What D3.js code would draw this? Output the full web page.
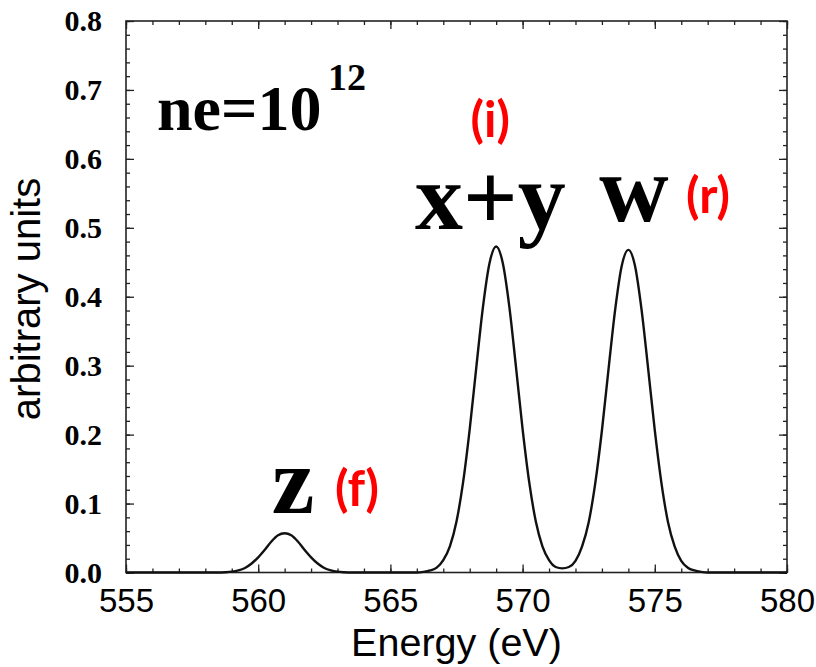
<!DOCTYPE html>
<html>
<head>
<meta charset="utf-8">
<script src="https://cdn.jsdelivr.net/npm/d3@7"></script>
<style>
  html, body { margin: 0; padding: 0; background: #fff; }
  svg { display: block; }
</style>
</head>
<body>
<svg id="chart" width="816" height="667"></svg>
<script>
// ---- data ----
const energy = [555, 557, 558.5, 558.75, 559, 559.25, 559.5, 559.75, 560, 560.25, 560.5, 560.75,
  561, 561.25, 561.5, 561.75, 562, 562.25, 562.5, 562.75, 563, 563.25, 563.5, 565,
  566, 566.25, 566.5, 566.75, 567, 567.25, 567.5, 567.75, 568, 568.25, 568.5, 568.75,
  569, 569.25, 569.5, 569.75, 570, 570.25, 570.5, 570.75, 571, 571.25, 571.5, 571.75,
  572, 572.25, 572.5, 572.75, 573, 573.25, 573.5, 573.75, 574, 574.25, 574.5, 574.75,
  575, 575.25, 575.5, 575.75, 576, 576.25, 576.5, 576.75, 577, 578, 580];
const intensity = [0, 0, 0.000, 0.0004, 0.0012, 0.003, 0.0065, 0.013, 0.022, 0.033, 0.045, 0.054,
  0.057, 0.054, 0.045, 0.033, 0.022, 0.013, 0.0065, 0.003, 0.0012, 0.0004, 0.000, 0,
  0.000, 0.001, 0.003, 0.007, 0.018, 0.038, 0.074, 0.131, 0.208, 0.298, 0.385, 0.449,
  0.473, 0.449, 0.385, 0.298, 0.208, 0.131, 0.074, 0.038, 0.018, 0.008, 0.006, 0.008,
  0.017, 0.038, 0.073, 0.130, 0.206, 0.295, 0.381, 0.445, 0.468, 0.445, 0.381, 0.295,
  0.206, 0.130, 0.073, 0.038, 0.017, 0.007, 0.003, 0.001, 0.000, 0, 0];

const xMajorTicks = [555, 560, 565, 570, 575, 580];
const xMinorTicks = d3.range(555, 581, 1);
const yMajorTicks = [0, 0.1, 0.2, 0.3, 0.4, 0.5, 0.6, 0.7, 0.8];
const yMinorTicks = d3.range(0, 41).map(i => i * 0.02);

const xTitle = "Energy (eV)";
const yTitle = "arbitrary units";

// peak annotations, anchored in data coordinates (energy, value)
const peakLabels = [
  { text: "z", x: 560.51, y: 0.086 },
  { text: "x+y", x: 565.93, y: 0.498 },
  { text: "w", x: 572.9, y: 0.510 }
];
const lineLabels = [
  { text: "(f)", x: 562.9, y: 0.097 },
  { text: "(i)", x: 568.03, y: 0.632 },
  { text: "(r)", x: 576.18, y: 0.5215 }
];

// ---- layout ----
const L = 126, R = 787, T = 21, B = 572.5;
const svg = d3.select("#chart");

const x = d3.scaleLinear().domain([555, 580]).range([L, R]);
const y = d3.scaleLinear().domain([0, 0.8]).range([B, T]);

const axisColor = "#222";

function styleAxis(g) {
  g.select(".domain").remove();
  g.selectAll(".tick line").attr("stroke", axisColor).attr("stroke-width", 1.3);
}
// minor ticks, all four sides (inward)
svg.append("g").attr("transform", `translate(0,${B})`)
  .call(d3.axisBottom(x).tickValues(xMinorTicks).tickSize(-4).tickFormat(""))
  .call(styleAxis);
svg.append("g").attr("transform", `translate(0,${T})`)
  .call(d3.axisTop(x).tickValues(xMinorTicks).tickSize(-4).tickFormat(""))
  .call(styleAxis);
svg.append("g").attr("transform", `translate(${L},0)`)
  .call(d3.axisLeft(y).tickValues(yMinorTicks).tickSize(-4).tickFormat(""))
  .call(styleAxis);
svg.append("g").attr("transform", `translate(${R},0)`)
  .call(d3.axisRight(y).tickValues(yMinorTicks).tickSize(-4).tickFormat(""))
  .call(styleAxis);

// major ticks + labels
const xAx = svg.append("g").attr("transform", `translate(0,${B})`)
  .call(d3.axisBottom(x).tickValues(xMajorTicks).tickSize(-8).tickPadding(16).tickFormat(d3.format("d")))
  .call(styleAxis);
xAx.selectAll("text").attr("font-family", "'Liberation Sans', Arial, sans-serif")
  .attr("font-size", 33).attr("fill", "#000");

svg.append("g").attr("transform", `translate(0,${T})`)
  .call(d3.axisTop(x).tickValues(xMajorTicks).tickSize(-8).tickFormat(""))
  .call(styleAxis);

const yAx = svg.append("g").attr("transform", `translate(${L},0)`)
  .call(d3.axisLeft(y).tickValues(yMajorTicks).tickSize(-8).tickPadding(24).tickFormat(d3.format(".1f")))
  .call(styleAxis);
yAx.selectAll("text").attr("font-family", "'Liberation Serif', 'Times New Roman', serif")
  .attr("font-weight", "bold").attr("font-size", 30).attr("fill", "#000");

svg.append("g").attr("transform", `translate(${R},0)`)
  .call(d3.axisRight(y).tickValues(yMajorTicks).tickSize(-8).tickFormat(""))
  .call(styleAxis);

// frame
svg.append("rect").attr("x", L).attr("y", T).attr("width", R - L).attr("height", B - T)
  .attr("fill", "none").attr("stroke", axisColor).attr("stroke-width", 1.6);

// curve
const pts = energy.map((e, i) => [e, intensity[i]]);
const line = d3.line().x(d => x(d[0])).y(d => y(d[1])).curve(d3.curveMonotoneX);
svg.append("path").datum(pts).attr("d", line)
  .attr("fill", "none").attr("stroke", "#111").attr("stroke-width", 2.4);

// axis titles
svg.append("text").attr("x", (L + R) / 2).attr("y", 656).attr("text-anchor", "middle")
  .attr("font-family", "'Liberation Sans', Arial, sans-serif").attr("font-size", 39.5)
  .attr("fill", "#000").text(xTitle);
svg.append("text").attr("transform", `translate(40,299) rotate(-90)`).attr("text-anchor", "middle")
  .attr("font-family", "'Liberation Sans', Arial, sans-serif").attr("font-size", 40)
  .attr("fill", "#000").text(yTitle);

// density annotation
svg.append("text").attr("x", 157).attr("y", 130)
  .attr("font-family", "'Liberation Serif', 'Times New Roman', serif").attr("font-weight", "bold")
  .attr("font-size", 64).attr("fill", "#000").text("ne=10");
svg.append("text").attr("x", 328).attr("y", 90)
  .attr("font-family", "'Liberation Serif', 'Times New Roman', serif").attr("font-weight", "bold")
  .attr("font-size", 38).attr("fill", "#000").text("12");

// peak labels
svg.selectAll("text.peak").data(peakLabels).enter().append("text").attr("class", "peak")
  .attr("x", d => x(d.x)).attr("y", d => y(d.y))
  .attr("font-family", "'Liberation Serif', 'Times New Roman', serif").attr("font-weight", "bold")
  .attr("font-size", 96).attr("fill", "#000").text(d => d.text);

svg.selectAll("text.line").data(lineLabels).enter().append("text").attr("class", "line")
  .attr("x", d => x(d.x)).attr("y", d => y(d.y))
  .attr("font-family", "Lato, 'Open Sans', sans-serif").attr("font-weight", "bold")
  .attr("font-size", 49).attr("fill", "#ff0000").text(d => d.text);
</script>
</body>
</html>
